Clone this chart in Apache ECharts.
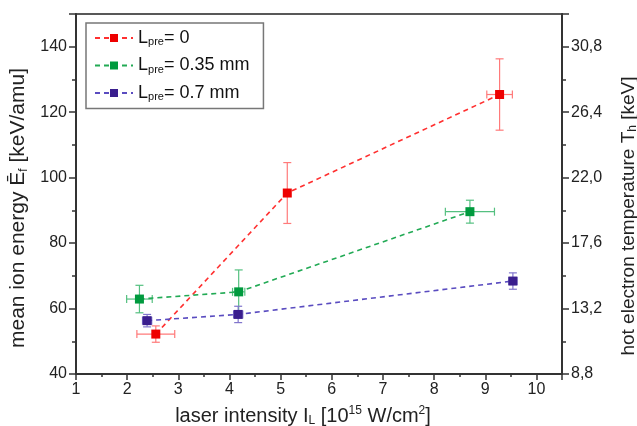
<!DOCTYPE html>
<html>
<head>
<meta charset="utf-8">
<script src="https://cdn.jsdelivr.net/npm/echarts@6/dist/echarts.min.js"></script>
<style>
  html, body { margin: 0; padding: 0; background: #fff; }
  #chart { width: 637px; height: 426px; }
</style>
</head>
<body>
<div id="chart"></div>
<script>
// Pre-plasma scale lengths (legend entries)
const preLengths = ['0', '0.35 mm', '0.7 mm'];

// Laser intensity [10^15 W/cm^2] and horizontal error
const intensity0   = [2.56, 5.13, 9.28];
const intensityErr0 = [0.37, 0, 0.25];
const intensity35  = [2.24, 4.18, 8.70];
const intensityErr35 = [0.25, 0.12, 0.48];
const intensity70  = [2.39, 4.17, 9.54];
const intensityErr70 = [0.09, 0.09, 0.08];

// Mean ion energy [keV/amu] and vertical error
const energy0   = [52.2, 95.3, 125.4];
const energyErr0 = [2.5, 9.3, 10.9];
const energy35  = [62.9, 65.1, 89.6];
const energyErr35 = [4.2, 6.7, 3.5];
const energy70  = [56.3, 58.2, 68.4];
const energyErr70 = [1.9, 2.5, 2.5];

// Axis ranges / ticks
const xTicks = { min: 1, max: 10.5, step: 1 };
const yLeft  = { min: 40, max: 150, step: 20 };
const yRight = { min: 8.8, max: 33, step: 4.4 };

const palette = [
  { mark: '#ee0000', line: '#ff3030', err: '#ff7a7a' },
  { mark: '#009a3e', line: '#22aa55', err: '#55c080' },
  { mark: '#3a1e8e', line: '#5a4cc0', err: '#8175cc' }
];

const groups = [
  [intensity0, intensityErr0, energy0, energyErr0],
  [intensity35, intensityErr35, energy35, energyErr35],
  [intensity70, intensityErr70, energy70, energyErr70]
];

function seriesName(i) { return 'Lpre = ' + preLengths[i]; }

function errorBars(color) {
  return function (params, api) {
    const x = api.value(0), y = api.value(1), dx = api.value(2), dy = api.value(3);
    const cap = 4;
    const st = { stroke: color, lineWidth: 1.2 };
    const items = [];
    if (dy > 0) {
      const t = api.coord([x, y + dy]), b = api.coord([x, y - dy]);
      items.push({ type: 'line', shape: { x1: t[0], y1: t[1], x2: b[0], y2: b[1] }, style: st });
      items.push({ type: 'line', shape: { x1: t[0] - cap, y1: t[1], x2: t[0] + cap, y2: t[1] }, style: st });
      items.push({ type: 'line', shape: { x1: b[0] - cap, y1: b[1], x2: b[0] + cap, y2: b[1] }, style: st });
    }
    if (dx > 0) {
      const l = api.coord([x - dx, y]), r = api.coord([x + dx, y]);
      items.push({ type: 'line', shape: { x1: l[0], y1: l[1], x2: r[0], y2: r[1] }, style: st });
      items.push({ type: 'line', shape: { x1: l[0], y1: l[1] - cap, x2: l[0], y2: l[1] + cap }, style: st });
      items.push({ type: 'line', shape: { x1: r[0], y1: r[1] - cap, x2: r[0], y2: r[1] + cap }, style: st });
    }
    return { type: 'group', children: items };
  };
}

const series = [];
groups.forEach(function (g, i) {
  const [xs, xe, ys, ye] = g;
  series.push({
    type: 'custom',
    xAxisIndex: 0,
    yAxisIndex: 0,
    renderItem: errorBars(palette[i].err),
    encode: { x: 0, y: 1 },
    data: xs.map(function (x, k) { return [x, ys[k], xe[k], ye[k]]; }),
    z: 2,
    silent: true
  });
});
groups.forEach(function (g, i) {
  const [xs, , ys] = g;
  series.push({
    name: seriesName(i),
    type: 'line',
    xAxisIndex: 0,
    yAxisIndex: 0,
    data: xs.map(function (x, k) { return [x, ys[k]]; }),
    symbol: 'rect',
    symbolSize: 9,
    itemStyle: { color: palette[i].mark },
    lineStyle: { color: palette[i].line, width: 1.6, type: [5, 4] },
    z: 3,
    animation: false
  });
});

const axisLineStyle = { color: '#333', width: 2 };
const tickStyle = { color: '#333', width: 1.5 };
const font = 'Liberation Sans, Arial, sans-serif';

function titleRich(size) {
  return {
    m: { fontSize: size, lineHeight: size + 2, color: '#222', fontFamily: font },
    s: { fontSize: 12, lineHeight: 2, verticalAlign: 'bottom', color: '#222', fontFamily: font },
    u: { fontSize: 12, lineHeight: 6, verticalAlign: 'top', color: '#222', fontFamily: font }
  };
}

const chart = echarts.init(document.getElementById('chart'), null, { renderer: 'canvas' });
chart.setOption({
  animation: false,
  textStyle: { fontFamily: font },
  grid: {
    left: 76, right: 75, top: 14, bottom: 52,
    containLabel: false,
    outerBoundsMode: 'none',
    show: true, borderColor: '#222', borderWidth: 1.5, backgroundColor: 'transparent'
  },
  legend: {
    data: preLengths.map(function (p, i) { return seriesName(i); }),
    orient: 'vertical',
    left: 86, top: 23,
    padding: [6, 14, 6, 8],
    itemWidth: 38, itemHeight: 10,
    itemGap: 9,
    borderColor: '#777', borderWidth: 1.5,
    formatter: function (name) {
      const v = name.replace('Lpre = ', '');
      return '{m|L}{s|pre}{m|= ' + v + '}';
    },
    textStyle: {
      color: '#111',
      fontFamily: font,
      rich: {
        m: { fontSize: 18, lineHeight: 19, fontFamily: font, color: '#111' },
        s: { fontSize: 11, lineHeight: 2, verticalAlign: 'bottom', fontFamily: font, color: '#111' }
      }
    }
  },
  xAxis: [{
    type: 'value',
    min: xTicks.min, max: xTicks.max, interval: xTicks.step,
    position: 'bottom',
    splitLine: { show: false },
    axisLine: { lineStyle: axisLineStyle },
    axisTick: { inside: false, length: 6, lineStyle: tickStyle },
    minorTick: { show: true, splitNumber: 2, length: 3, lineStyle: tickStyle },
    axisLabel: { fontSize: 16, color: '#222', margin: 8, showMaxLabel: false, fontFamily: font },
    name: '{m|laser intensity I}{s|L}{m| [10}{u|15}{m| W/cm}{u|2}{m|]}',
    nameLocation: 'middle',
    nameGap: 31,
    nameTextStyle: {
      padding: [0, 32, 0, 0],
      rich: titleRich(20)
    }
  }],
  yAxis: [{
    type: 'value',
    position: 'left',
    min: yLeft.min, max: yLeft.max, interval: yLeft.step,
    splitLine: { show: false },
    axisLine: { show: true, lineStyle: axisLineStyle },
    axisTick: { show: true, inside: false, length: 7, lineStyle: tickStyle },
    minorTick: { show: true, splitNumber: 2, length: 4, lineStyle: tickStyle },
    axisLabel: { fontSize: 16, color: '#222', margin: 9, showMaxLabel: false, fontFamily: font },
    name: '{m|mean ion energy Ē}{s|f}{m| [keV/amu]}',
    nameLocation: 'middle',
    nameRotate: 90,
    nameGap: 45,
    nameTextStyle: {
      padding: [0, 28, 0, 0],
      rich: titleRich(21)
    }
  }, {
    type: 'value',
    position: 'right',
    min: yRight.min, max: yRight.max, interval: yRight.step,
    splitLine: { show: false },
    axisLine: { show: true, lineStyle: axisLineStyle },
    axisTick: { show: true, inside: false, length: 7, lineStyle: tickStyle },
    minorTick: { show: true, splitNumber: 2, length: 4, lineStyle: tickStyle },
    axisLabel: {
      fontSize: 16, color: '#222', margin: 9, showMaxLabel: false, fontFamily: font,
      formatter: function (v) { return v.toFixed(1).replace('.', ','); }
    },
    name: '{m|hot electron temperature T}{s|h}{m| [keV]}',
    nameLocation: 'middle',
    nameRotate: 90,
    nameGap: 56,
    nameTextStyle: {
      padding: [0, 44, 0, 0],
      rich: titleRich(19)
    }
  }],
  series: series
});
</script>
</body>
</html>
